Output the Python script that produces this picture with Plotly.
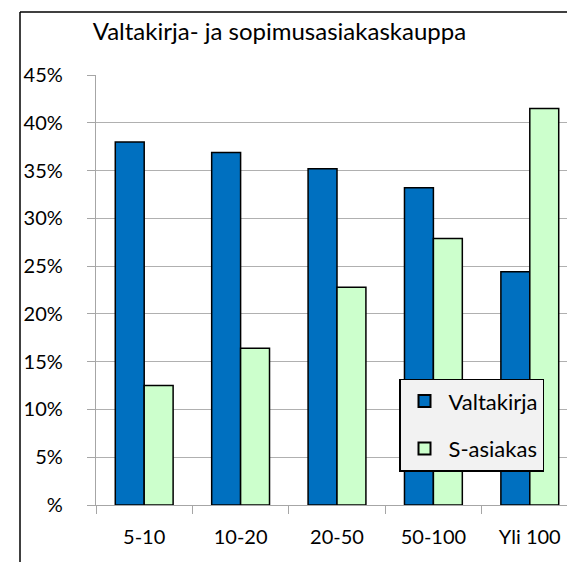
import plotly.graph_objects as go

categories = ["5-10", "10-20", "20-50", "50-100", "Yli 100"]
valtakirja = [0.380, 0.369, 0.352, 0.332, 0.244]
s_asiakas = [0.125, 0.164, 0.228, 0.279, 0.415]
y_tickvals = [0, 0.05, 0.10, 0.15, 0.20, 0.25, 0.30, 0.35, 0.40, 0.45]
y_ticktext = ["%", "5%", "10%", "15%", "20%", "25%", "30%", "35%", "40%", "45%"]

FONT = "Lato, Carlito, Calibri, sans-serif"

fig = go.Figure()
fig.add_trace(go.Bar(
    x=categories, y=valtakirja, name="Valtakirja", legendgroup="a",
    marker=dict(color="#0070C0", line=dict(color="#000000", width=1.5)),
))
fig.add_trace(go.Bar(
    x=categories, y=s_asiakas, name="S-asiakas", legendgroup="b",
    marker=dict(color="#CCFFCC", line=dict(color="#000000", width=1.5)),
))

L, T, W, H = 88, 67, 482, 430.5
def px(p):
    return (p - L) / W
def py(p):
    return (T + H - p) / H

fig.update_layout(
    width=575, height=562,
    margin=dict(l=L, r=575 - L - W, t=T, b=562 - T - H, pad=0),
    paper_bgcolor="white", plot_bgcolor="white",
    font=dict(family=FONT, size=20, color="black"),
    title=dict(text="Valtakirja- ja sopimusasiakaskauppa", x=0.472, xanchor="center",
               y=1 - 24 / 562, yanchor="middle",
               font=dict(family=FONT, size=24, color="black")),
    barmode="group", bargap=0.4, bargroupgap=0,
    showlegend=True,
    legend=dict(x=px(391), y=py(371), xanchor="left", yanchor="top",
                bgcolor="#F2F2F2", bordercolor="#000000", borderwidth=1.5,
                font=dict(family=FONT, size=22, color="black"),
                tracegroupgap=16, traceorder="grouped",
                itemwidth=38, itemsizing="constant"),
    xaxis=dict(type="category", showgrid=False, showline=True, linecolor="#A6A6A6",
               linewidth=1.3, ticks="outside", tickson="boundaries", ticklen=8,
               tickcolor="#A6A6A6", tickwidth=1.3, ticklabelstandoff=14,
               tickfont=dict(family=FONT, size=20, color="black")),
    yaxis=dict(range=[0, 0.45], tickvals=y_tickvals, ticktext=y_ticktext,
               showgrid=True, gridcolor="#B0B0B0", gridwidth=1.3,
               showline=True, linecolor="#A6A6A6", linewidth=1.3,
               ticks="outside", ticklen=8, tickcolor="#A6A6A6", tickwidth=1.3,
               ticklabelstandoff=20, zeroline=False,
               tickfont=dict(family=FONT, size=20, color="black")),
    shapes=[
        dict(type="line", xref="paper", yref="paper", x0=px(12), x1=px(600),
             y0=py(4), y1=py(4), line=dict(color="black", width=1.5)),
        dict(type="line", xref="paper", yref="paper", x0=px(12), x1=px(12),
             y0=py(4), y1=py(600), line=dict(color="black", width=1.5)),
    ],
)

fig.write_html("out.html")
